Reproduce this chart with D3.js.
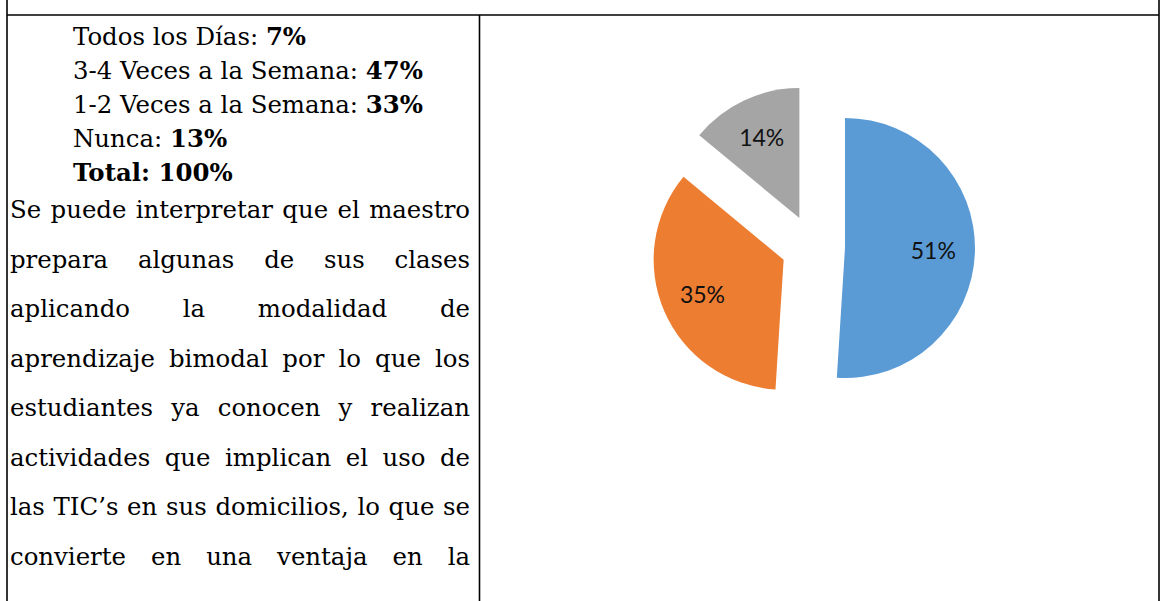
<!DOCTYPE html>
<html>
<head>
<meta charset="UTF-8">
<title>Frecuencia - gráfico circular</title>
<script src="https://d3js.org/d3.v7.min.js"></script>
<style>
body { margin: 0; background: #fff; }
</style>
</head>
<body>
<svg id="page" width="1160" height="601"></svg>
<script>

/* Pie data */
var sliceNames = ["3-4 Veces a la Semana", "1-2 Veces a la Semana", "Nunca"]
var sliceValues = [51, 35, 14]
var sliceColors = ["#5b9bd5", "#ed7d31", "#a5a5a5"]

/* Left cell text */
var listText = ["Todos los Días: ", "3-4 Veces a la Semana: ", "1-2 Veces a la Semana: ", "Nunca: ", ""]
var listBold = ["7%", "47%", "33%", "13%", "Total: 100%"]
var paraLines = [
	"Se puede interpretar que el maestro",
	"prepara algunas de sus clases",
	"aplicando la modalidad de",
	"aprendizaje bimodal por lo que los",
	"estudiantes ya conocen y realizan",
	"actividades que implican el uso de",
	"las TIC’s en sus domicilios, lo que se",
	"convierte en una ventaja en la"
]

/* Layout */
var W = 1160, H = 601
var topY = 15			// horizontal rule of the table
var leftX = 7, midX = 479.5, rightX = 1159
var textL = 10, textR = 470	// paragraph box
var listX = 73
var listY0 = 45, listStep = 34
var paraY0 = 218, paraStep = 49.5
var cx = 813, cy = 247, R = 130, explode = 32
var serif = "'DejaVu Serif', serif"

var svg = d3.select('#page')

/* table borders */
var borders = svg.append('g')
	.attr('stroke', '#000')
	.attr('stroke-width', 1.6)
borders.append('line').attr('x1', leftX).attr('x2', rightX).attr('y1', topY).attr('y2', topY)
borders.append('line').attr('x1', leftX).attr('x2', leftX).attr('y1', 0).attr('y2', H)
borders.append('line').attr('x1', rightX).attr('x2', rightX).attr('y1', 0).attr('y2', H)
borders.append('line').attr('x1', midX).attr('x2', midX).attr('y1', topY).attr('y2', H)

/* pick a font size so the first paragraph line fits its natural width */
var probe = svg.append('text').attr('font-family', serif).attr('font-size', 26).text(paraLines[0])
var fs = 26 * 452 / probe.node().getComputedTextLength()
probe.remove()

function wordWidth(w) {
	var t = svg.append('text').attr('font-family', serif).attr('font-size', fs).text(w)
	var len = t.node().getComputedTextLength()
	t.remove()
	return len
}

/* list of answers */
var list = svg.append('g').attr('font-family', serif).attr('font-size', fs).attr('fill', '#000')
list.selectAll('text')
	.data(listText)
	.enter()
	.append('text')
	.attr('x', listX)
	.attr('y', function(d, i) { return listY0 + i * listStep })
	.each(function(d, i) {
		var t = d3.select(this)
		t.append('tspan').text(d)
		t.append('tspan').attr('font-weight', 'bold').text(listBold[i])
	})

/* justified paragraph */
var para = svg.append('g').attr('font-family', serif).attr('font-size', fs).attr('fill', '#000')
paraLines.forEach(function(line, i) {
	var words = line.split(' ')
	var widths = words.map(wordWidth)
	var total = d3.sum(widths)
	var gap = (textR - textL - total) / (words.length - 1)
	var x = textL
	words.forEach(function(w, j) {
		para.append('text')
			.attr('x', x)
			.attr('y', paraY0 + i * paraStep)
			.text(w)
		x += widths[j] + gap
	})
})

/* exploded pie */
var pie = d3.pie().sort(null).value(function(d) { return d })
var arcs = pie(sliceValues)
var arc = d3.arc().innerRadius(0).outerRadius(R)
var labelArc = d3.arc().innerRadius(R * 0.68).outerRadius(R * 0.68)
var sum = d3.sum(sliceValues)

var chart = svg.append('g').attr('transform', 'translate(' + cx + ',' + cy + ')')
var slices = chart.selectAll('g.slice')
	.data(arcs)
	.enter()
	.append('g')
	.attr('class', 'slice')
	.attr('transform', function(d) {
		var a = (d.startAngle + d.endAngle) / 2
		return 'translate(' + (Math.sin(a) * explode) + ',' + (-Math.cos(a) * explode) + ')'
	})

slices.append('path')
	.attr('d', arc)
	.attr('fill', function(d, i) { return sliceColors[i] })

slices.append('text')
	.attr('transform', function(d) { return 'translate(' + labelArc.centroid(d) + ')' })
	.attr('text-anchor', 'middle')
	.attr('dy', '0.36em')
	.attr('font-family', 'Lato, sans-serif')
	.attr('font-size', 23)
	.attr('fill', '#111')
	.text(function(d) { return Math.round(d.value / sum * 100) + '%' })

</script>
</body>
</html>
